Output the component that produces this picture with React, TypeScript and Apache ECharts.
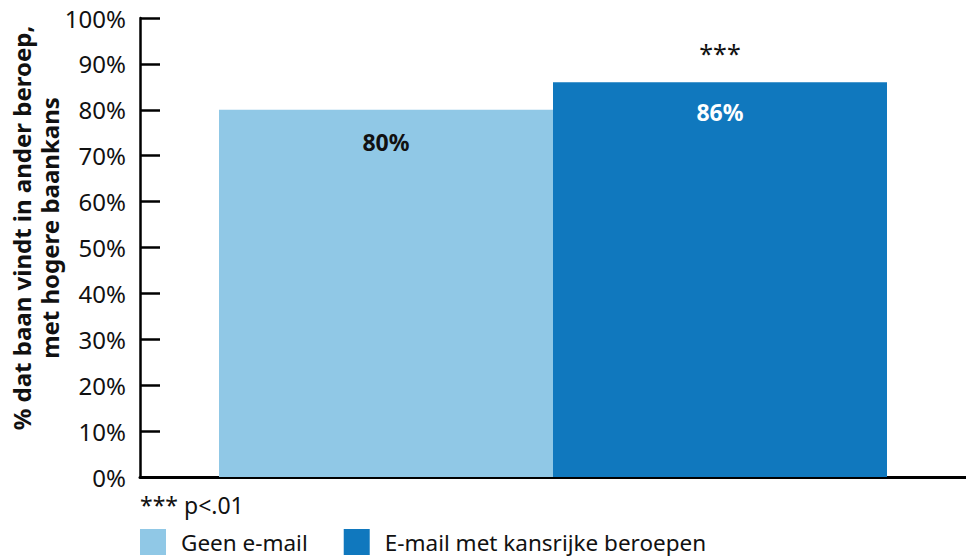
import React, { useEffect, useRef } from "react";
import * as echarts from "echarts";

const categories = ["Groep"];
const seriesNames = ["Geen e-mail", "E-mail met kansrijke beroepen"];
const geenEmail = [80];
const emailKansrijk = [86];
const yTicks = [0, 10, 20, 30, 40, 50, 60, 70, 80, 90, 100];
const significance = "***";
const footnote = "*** p<.01";
const yName = "% dat baan vindt in ander beroep,\nmet hogere baankans";

const LIGHT = "#90C8E6";
const DARK = "#1078BE";
const FONT = "'Noto Sans', 'Open Sans', sans-serif";

export default function App() {
  const ref = useRef<HTMLDivElement>(null);
  useEffect(() => {
    if (!ref.current) return;
    const chart = echarts.init(ref.current, undefined, { renderer: "svg" });
    chart.setOption({
      animation: false,
      textStyle: { fontFamily: FONT },
      grid: { left: 140, top: 18, width: 833, height: 459, containLabel: false },
      legend: {
        left: 140,
        top: 529,
        padding: 0,
        itemWidth: 26,
        itemHeight: 26,
        itemGap: 36,
        icon: "rect",
        textStyle: { fontSize: 22.5, color: "#111", fontFamily: FONT, padding: [0, 0, 0, 10], lineHeight: 26 },
        data: seriesNames,
      },
      xAxis: {
        type: "category",
        data: categories,
        axisLine: { lineStyle: { color: "#000", width: 3 } },
        axisTick: { show: false },
        axisLabel: { show: false },
      },
      yAxis: {
        type: "value",
        min: yTicks[0],
        max: yTicks[yTicks.length - 1],
        interval: 10,
        axisLine: { show: true, lineStyle: { color: "#000", width: 2.5 } },
        axisTick: { show: true, inside: true, length: 20, lineStyle: { color: "#000", width: 2.5 } },
        splitLine: { show: false },
        axisLabel: {
          formatter: "{value}%",
          fontSize: 24,
          color: "#111",
          margin: 14,
          fontFamily: FONT,
        },
      },
      graphic: [
        {
          type: "text",
          x: 35,
          y: 228,
          rotation: Math.PI / 2,
          style: {
            text: yName,
            fontSize: 24,
            fontWeight: "bold",
            fontFamily: FONT,
            fill: "#111",
            align: "center",
            verticalAlign: "middle",
            lineHeight: 28,
          },
        },
        {
          type: "text",
          x: 140,
          y: 505,
          style: {
            text: footnote,
            fontSize: 23,
            fontFamily: FONT,
            fill: "#111",
            align: "left",
            verticalAlign: "middle",
          },
        },
      ],
      series: [
        {
          name: seriesNames[0],
          type: "bar",
          data: geenEmail,
          barGap: "0%",
          barWidth: 334,
          itemStyle: { color: LIGHT },
          label: {
            show: true,
            position: "insideTop",
            distance: 21,
            formatter: "{c}%",
            fontSize: 23,
            fontWeight: "bold",
            color: "#111",
            fontFamily: FONT,
          },
        },
        {
          name: seriesNames[1],
          type: "bar",
          data: emailKansrijk,
          barGap: "0%",
          barWidth: 334,
          itemStyle: { color: DARK },
          label: {
            show: true,
            position: "insideTop",
            distance: 18,
            formatter: "{c}%",
            fontSize: 23,
            fontWeight: "bold",
            color: "#fff",
            fontFamily: FONT,
          },
          markPoint: {
            symbol: "circle",
            symbolSize: 0,
            data: [{ coord: [0, emailKansrijk[0]] }],
            label: {
              show: true,
              position: "top",
              distance: 17,
              formatter: significance,
              fontSize: 25,
              color: "#111",
              fontFamily: FONT,
            },
          },
        },
      ],
    });
    return () => chart.dispose();
  }, []);
  return (
    <div
      ref={ref}
      style={{ position: "absolute", left: 0, top: 0, width: 966, height: 558 }}
    />
  );
}
